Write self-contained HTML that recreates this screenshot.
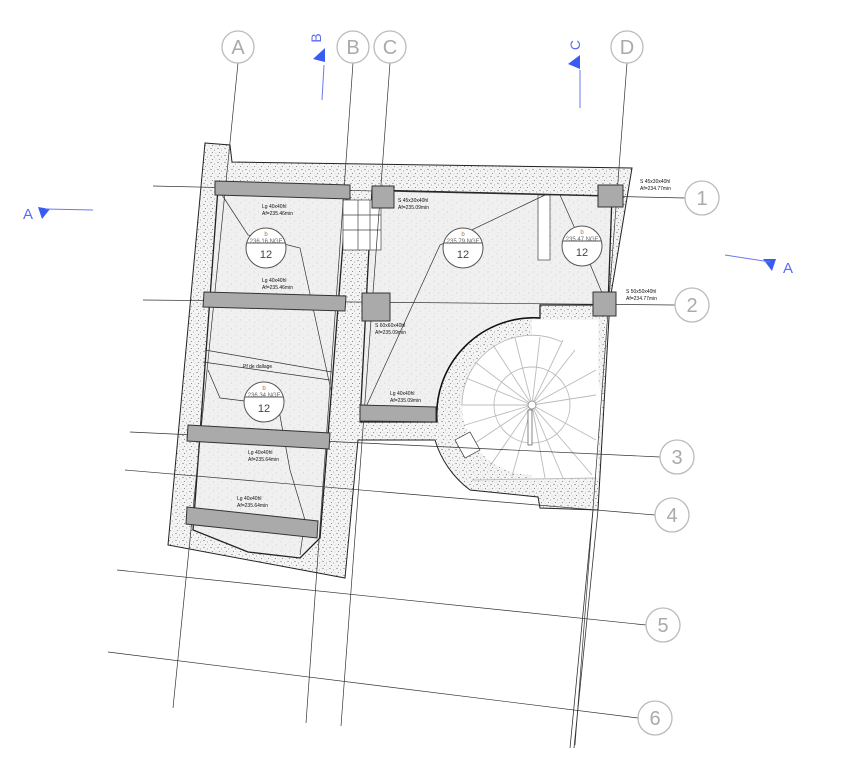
<!DOCTYPE html>
<html><head><meta charset="utf-8"><style>
html,body{margin:0;padding:0;background:#fff}
svg{display:block}
text{font-family:"Liberation Sans",sans-serif}
</style></head><body>
<svg width="842" height="760" viewBox="0 0 842 760" xmlns="http://www.w3.org/2000/svg">
<defs>
<pattern id="w" width="7" height="7" patternUnits="userSpaceOnUse">
<rect width="7" height="7" fill="#f4f4f4"/>
<circle cx="1" cy="1.5" r="0.6" fill="#777"/><circle cx="4.5" cy="3" r="0.5" fill="#888"/><circle cx="2.5" cy="5.5" r="0.55" fill="#777"/><circle cx="6" cy="6" r="0.4" fill="#999"/>
</pattern>
<pattern id="r" width="9" height="9" patternUnits="userSpaceOnUse">
<rect width="9" height="9" fill="#f0f0f0"/>
<circle cx="2" cy="2" r="0.4" fill="#aaa"/><circle cx="6.5" cy="5" r="0.4" fill="#aaa"/><circle cx="3" cy="7.5" r="0.35" fill="#bbb"/>
</pattern>
</defs>

<!-- walls -->
<path d="M205,143 L230,145 L232,162 L632,168 L610,300 L598,510 L540,508 L538,497 L470,490 A97,97 0 0 1 435,440 L358,440 L345,578 L168,545 Z" fill="url(#w)" stroke="#222" stroke-width="1"/>
<!-- rooms -->
<path d="M218,188 L347,192 L320,538 L300,558 L248,552 L193,530 Z" fill="url(#r)" stroke="#222" stroke-width="1.3"/>
<path d="M372,190 L612,196 L608,305 L540,305 L540,318 A97,97 0 0 0 437,422 L360,422 Z" fill="url(#r)" stroke="#222" stroke-width="1.3"/>
<!-- stair -->
<rect x="532" y="320" width="66" height="158" fill="#fff"/>
<circle cx="532" cy="405" r="70" fill="#fff" stroke="none"/>
<g stroke="#bbb" stroke-width="0.9">
<line x1="532" y1="405" x2="462" y2="405"/><line x1="532" y1="405" x2="466" y2="378"/><line x1="532" y1="405" x2="475" y2="362"/><line x1="532" y1="405" x2="493" y2="345"/><line x1="532" y1="405" x2="515" y2="338"/><line x1="532" y1="405" x2="540" y2="337"/><line x1="532" y1="405" x2="563" y2="340"/><line x1="532" y1="405" x2="575" y2="350"/><line x1="532" y1="405" x2="596" y2="370"/><line x1="532" y1="405" x2="596" y2="395"/><line x1="532" y1="405" x2="596" y2="440"/><line x1="532" y1="405" x2="592" y2="475"/><line x1="532" y1="405" x2="563" y2="478"/><line x1="532" y1="405" x2="545" y2="478"/><line x1="532" y1="405" x2="512" y2="476"/><line x1="532" y1="405" x2="490" y2="466"/><line x1="532" y1="405" x2="472" y2="445"/><line x1="532" y1="405" x2="465" y2="425"/>
<circle cx="532" cy="405" r="38" fill="none"/>
<path d="M462,405 A70,70 0 0 1 562,342" fill="none"/>
<line x1="472" y1="480" x2="596" y2="478"/>
</g>
<circle cx="532" cy="405" r="4" fill="#fff" stroke="#999"/>
<rect x="528" y="410" width="4" height="35" fill="#fff" stroke="#555" stroke-width="0.7"/>
<path d="M455,440 L470,432 L480,450 L465,458 Z" fill="#fff" stroke="#333" stroke-width="0.7"/>
<path d="M540,318 A97,97 0 0 0 437,422" fill="none" stroke="#111" stroke-width="1.5"/>
<!-- right wall double lines -->
<g stroke="#333" stroke-width="0.8"><line x1="598" y1="510" x2="574" y2="748"/><line x1="593" y1="510" x2="570" y2="748"/></g>
<!-- small stair left -->
<g stroke="#444" stroke-width="0.7" fill="#fff"><rect x="343" y="200" width="38" height="50"/><line x1="343" y1="215" x2="381" y2="215"/><line x1="343" y1="230" x2="381" y2="230"/><line x1="358" y1="200" x2="358" y2="250"/><line x1="370" y1="200" x2="370" y2="250"/></g>
<rect x="538" y="195" width="12" height="65" fill="#fff" stroke="#444" stroke-width="0.7"/>

<!-- grid lines (on top) -->
<g stroke="#333" stroke-width="0.7" fill="none">
<line x1="238" y1="63" x2="173" y2="708"/>
<line x1="353" y1="63" x2="306" y2="723"/>
<line x1="390" y1="63" x2="341" y2="726"/>
<line x1="627" y1="63" x2="575" y2="745"/>
<line x1="153" y1="186" x2="685" y2="198"/>
<line x1="143" y1="300" x2="675" y2="305"/>
<line x1="130" y1="432" x2="660" y2="457"/>
<line x1="125" y1="470" x2="655" y2="515"/>
<line x1="117" y1="570" x2="646" y2="625"/>
<line x1="108" y1="652" x2="638" y2="718"/>
</g>

<!-- thin room lines -->
<g stroke="#333" stroke-width="0.7" fill="none">
<path d="M222,195 L248,235 L300,248 L332,395"/>
<path d="M205,350 L332,372"/><path d="M203,362 L330,380"/>
<path d="M208,370 L220,398 L278,405 L290,470 L305,520 L300,555"/>
<path d="M360,420 L440,245 L545,195"/>
<path d="M560,195 L580,240 L605,300"/>
</g>
<!-- beams -->
<g fill="#aaa" stroke="#333" stroke-width="1">
<polygon points="215,181 350,185 350,199 215,195"/>
<polygon points="204,292 346,296 345,311 203,307"/>
<polygon points="188,425 330,433 329,449 187,441"/>
<polygon points="187,507 318,521 317,538 186,524"/>
<polygon points="360,405 436,407 436,422 360,421"/>
<rect x="372" y="186" width="22" height="22"/>
<rect x="362" y="293" width="28" height="28"/>
<rect x="598" y="185" width="25" height="22"/>
<rect x="593" y="292" width="23" height="24"/>
</g>
<!-- level circles -->
<g font-size="6" text-anchor="middle">
<g><circle cx="266" cy="248" r="20" fill="#fff" stroke="#555"/><line x1="247" y1="243" x2="285" y2="243" stroke="#555"/><text x="266" y="236" fill="#b07030">b</text><text x="266" y="243" fill="#666">236.16 NGF</text><text x="266" y="258" font-size="11" fill="#444">12</text></g>
<g><circle cx="463" cy="248" r="20" fill="#fff" stroke="#555"/><line x1="444" y1="243" x2="482" y2="243" stroke="#555"/><text x="463" y="236" fill="#b07030">b</text><text x="463" y="243" fill="#666">235.79 NGF</text><text x="463" y="258" font-size="11" fill="#444">12</text></g>
<g><circle cx="582" cy="246" r="20" fill="#fff" stroke="#555"/><line x1="563" y1="241" x2="601" y2="241" stroke="#555"/><text x="582" y="234" fill="#b07030">b</text><text x="582" y="241" fill="#666">235.47 NGF</text><text x="582" y="256" font-size="11" fill="#444">12</text></g>
<g><circle cx="264" cy="402" r="20" fill="#fff" stroke="#555"/><line x1="245" y1="397" x2="283" y2="397" stroke="#555"/><text x="264" y="390" fill="#b07030">b</text><text x="264" y="397" fill="#666">236.34 NGF</text><text x="264" y="412" font-size="11" fill="#444">12</text></g>
</g>
<!-- tiny labels -->
<g font-size="5" fill="#111">
<text x="262" y="208">Lg 40x40hl</text><text x="262" y="215">Af=235.46min</text>
<text x="262" y="282">Lg 40x40hl</text><text x="262" y="289">Af=235.46min</text>
<text x="243" y="368">Pf de dallage</text>
<text x="248" y="454">Lg 40x40hl</text><text x="248" y="461">Af=235.64min</text>
<text x="237" y="500">Lg 40x40hl</text><text x="237" y="507">Af=235.64min</text>
<text x="398" y="202">S 45x30x40hl</text><text x="398" y="209">Af=235.09min</text>
<text x="375" y="327">S 60x60x40hl</text><text x="375" y="334">Af=235.09min</text>
<text x="390" y="395">Lg 40x40hl</text><text x="390" y="402">Af=235.09min</text>
<text x="640" y="183">S 45x30x40hl</text><text x="640" y="190">Af=234.77min</text>
<text x="626" y="293">S 50x50x40hl</text><text x="626" y="300">Af=234.77min</text>
</g>
<!-- grid bubbles -->
<g fill="#fff" stroke="#bbb" stroke-width="1.3">
<circle cx="238" cy="47" r="16"/><circle cx="353" cy="47" r="16"/><circle cx="390" cy="47" r="16"/><circle cx="627" cy="47" r="16"/>
<circle cx="702" cy="198" r="17"/><circle cx="692" cy="305" r="17"/><circle cx="677" cy="457" r="17"/><circle cx="672" cy="515" r="17"/><circle cx="663" cy="625" r="17"/><circle cx="655" cy="718" r="17"/>
</g>
<g fill="#aaa" font-size="20" text-anchor="middle">
<text x="238" y="54">A</text><text x="353" y="54">B</text><text x="390" y="54">C</text><text x="627" y="54">D</text>
<text x="702" y="205">1</text><text x="692" y="312">2</text><text x="677" y="464">3</text><text x="672" y="522">4</text><text x="663" y="632">5</text><text x="655" y="725">6</text>
</g>
<!-- section markers -->
<g fill="#3a5bf0" stroke="none">
<text x="28" y="219" font-size="15" fill="#5a6bf0" text-anchor="middle">A</text>
<polygon points="38,207 50,209 42,219"/>
<text x="788" y="273" font-size="15" fill="#5a6bf0" text-anchor="middle">A</text>
<polygon points="763,259 776,259 772,271"/>
<text x="316" y="38" font-size="14" fill="#5a6bf0" text-anchor="middle" transform="rotate(-90 316 38) translate(0 5)">B</text>
<polygon points="313,59 325,48 325,62"/>
<text x="575" y="45" font-size="14" fill="#5a6bf0" text-anchor="middle" transform="rotate(-90 575 45) translate(0 5)">C</text>
<polygon points="568,64 580,55 580,69"/>
</g>
<g stroke="#6a7af0" stroke-width="1"><line x1="45" y1="209" x2="93" y2="210"/><line x1="725" y1="255" x2="770" y2="262"/><line x1="324" y1="65" x2="322" y2="100"/><line x1="580" y1="70" x2="580" y2="108"/></g>
</svg>
</body></html>
